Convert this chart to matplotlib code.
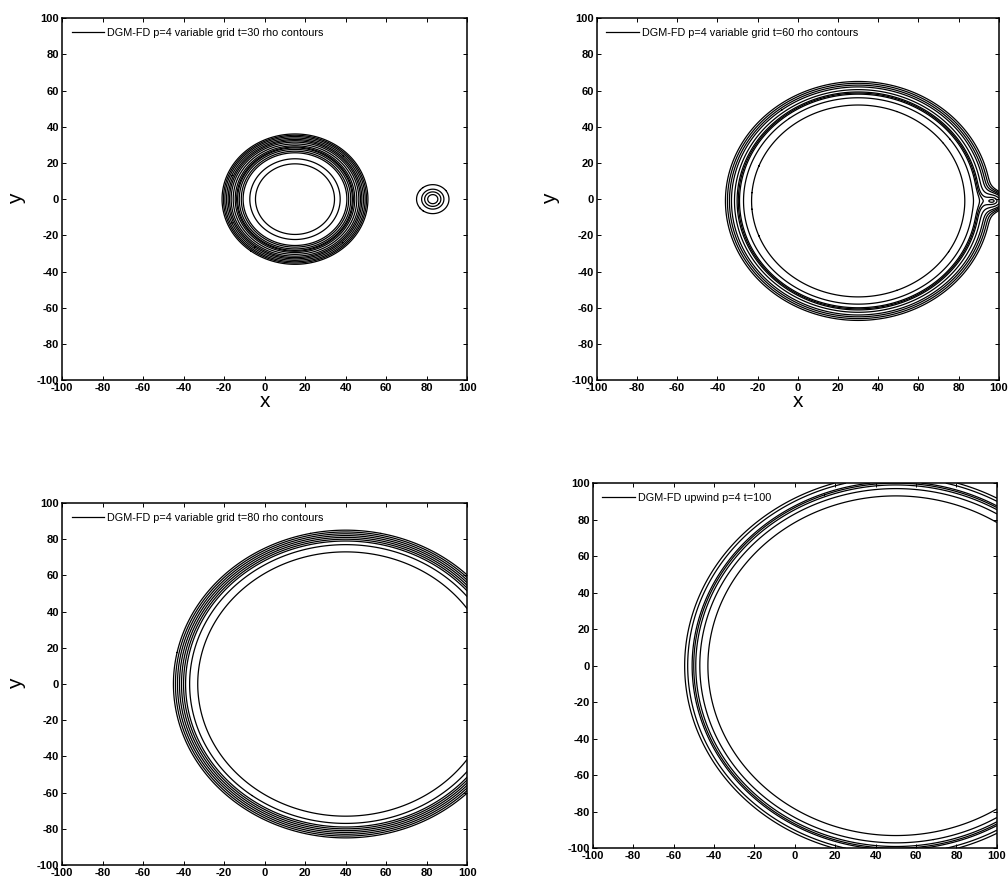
import numpy as np
import matplotlib
matplotlib.use('Agg')
import matplotlib.pyplot as plt

plt.rcParams['font.family'] = ['Liberation Sans', 'DejaVu Sans']
plt.rcParams['axes.unicode_minus'] = False

# legend labels of the four panels
titles = [
    'DGM-FD p=4 variable grid t=30 rho contours',
    'DGM-FD p=4 variable grid t=60 rho contours',
    'DGM-FD p=4 variable grid t=80 rho contours',
    'DGM-FD upwind p=4 t=100',
]

# ring centres and contour radii
centers_1 = [(15, 0), (83, 0)]
radii_1 = [
    [19.5, 22.3, 25.6, 26.5, 27.5, 28.3, 28.8, 29.5, 30.5, 31.5, 32.3, 33.0,
     33.8, 34.6, 35.3, 36.0],
    [2.5, 4.0, 5.5, 8.0],
]
centers_2 = [(30, -1)]
radii_2 = [[53, 57, 59, 59.6, 60.2, 61.5, 63, 64, 65, 66]]
centers_3 = [(40, 0)]
radii_3 = [[73, 77, 79, 80, 81, 82, 83, 84, 85]]
centers_4 = [(50, 0)]
radii_4 = [[93, 97, 99, 100, 100.8, 103, 104.5]]

# wall bump at the right edge for the t=60 panel (amp, x, y, x width, y width)
bump_2 = (9.0, 100, -1, 7.0, 6.0)

ticks = [-100, -80, -60, -40, -20, 0, 20, 40, 60, 80, 100]

grid = np.linspace(-100, 100, 1001)
X, Y = np.meshgrid(grid, grid)


def draw_panel(ax, centers, radii, title, bump=None, xlabel=True, ylabel=True):
    for (cx, cy), levels in zip(centers, radii):
        R = np.sqrt((X - cx) ** 2 + (Y - cy) ** 2)
        if bump is not None:
            amp, bx, by, wx, wy = bump
            R = R - amp * np.exp(-((X - bx) / wx) ** 2 - ((Y - by) / wy) ** 2)
        ax.contour(X, Y, R, levels=sorted(levels), colors='k', linewidths=0.9)

    ax.plot([], [], color='k', lw=0.9, label=title)
    ax.legend(loc='upper left', frameon=False, fontsize=7.8, handlelength=3.0,
              handletextpad=0.3, borderaxespad=0.5)

    ax.set_xlim(-100, 100)
    ax.set_ylim(-100, 100)
    ax.set_xticks(ticks)
    ax.set_yticks(ticks)
    ax.tick_params(direction='in', top=True, right=True, labelsize=8,
                   length=3, width=0.7, pad=2)
    for lab in ax.get_xticklabels() + ax.get_yticklabels():
        lab.set_fontweight('bold')
    for s in ax.spines.values():
        s.set_linewidth(1.1)
    if xlabel:
        ax.set_xlabel('x', fontsize=15, labelpad=-1)
    if ylabel:
        ax.set_ylabel('y', fontsize=15, labelpad=8, rotation=90)


fig = plt.figure(figsize=(10.08, 8.8), dpi=100)

ax1 = fig.add_axes([0.0615, 0.568, 0.402, 0.4114])
ax2 = fig.add_axes([0.592, 0.568, 0.399, 0.4114])
ax3 = fig.add_axes([0.0615, 0.017, 0.402, 0.4114])
ax4 = fig.add_axes([0.588, 0.036, 0.401, 0.415])

draw_panel(ax1, centers_1, radii_1, titles[0])
draw_panel(ax2, centers_2, radii_2, titles[1], bump=bump_2)
draw_panel(ax3, centers_3, radii_3, titles[2])
draw_panel(ax4, centers_4, radii_4, titles[3], xlabel=False, ylabel=False)

fig.savefig('out.png', dpi=100)
